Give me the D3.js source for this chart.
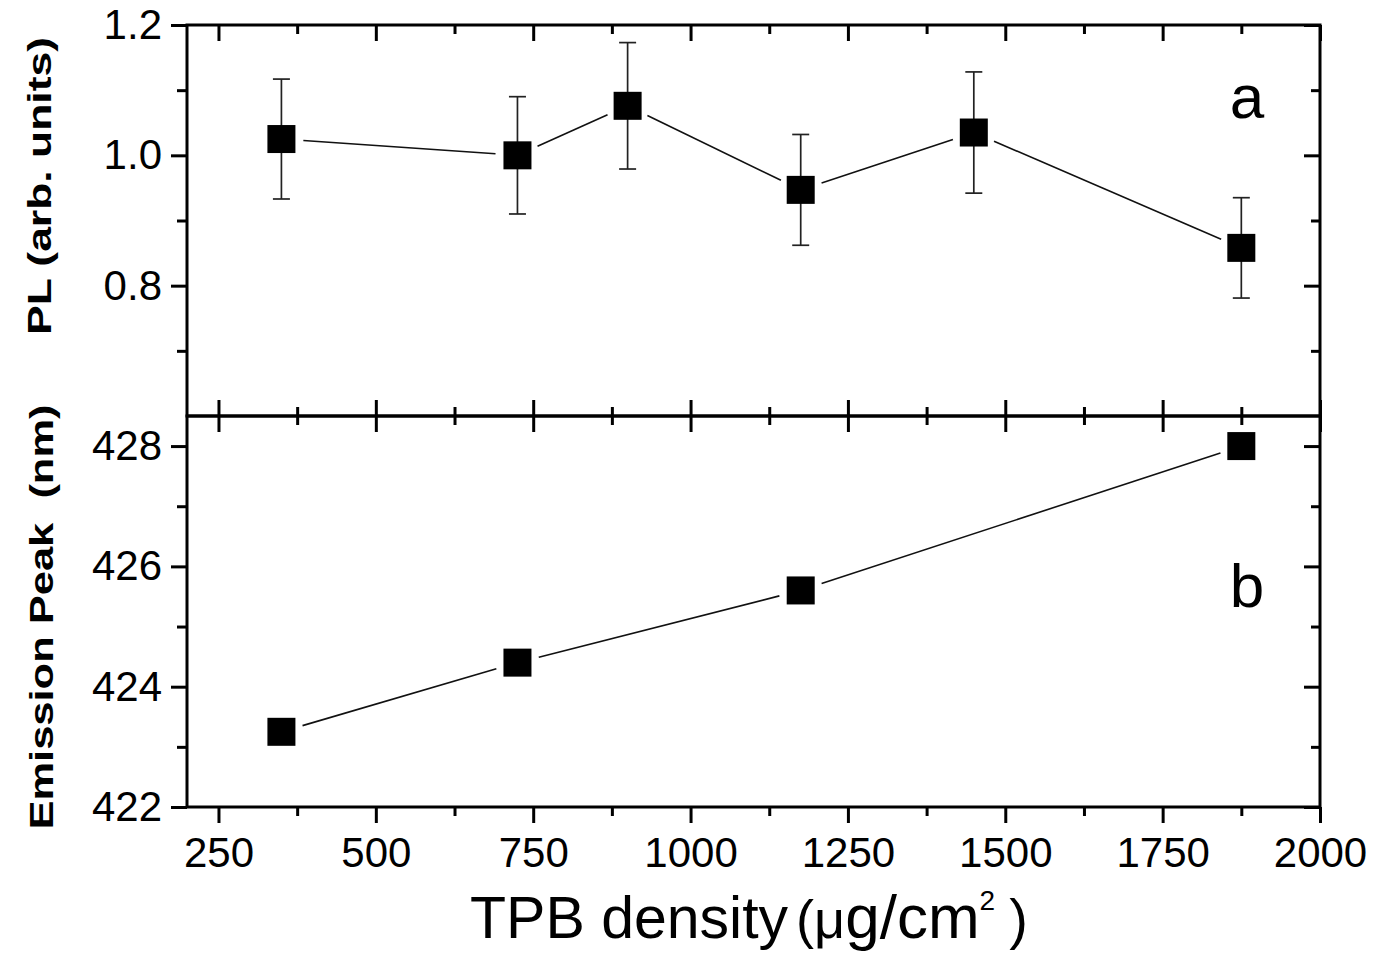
<!DOCTYPE html>
<html lang="en">
<head>
<meta charset="UTF-8">
<title>TPB density</title>
<script src="https://d3js.org/d3.v7.min.js"></script>
<style>
  body { margin: 0; background: #fff; }
  svg text { font-family: "Liberation Sans", Arial, sans-serif; fill: #000; }
</style>
</head>
<body>
<div id="chart"></div>
<script>
// x axis (shared)
var xDomain = [200, 2000];
var xMajor = [250, 500, 750, 1000, 1250, 1500, 1750, 2000];
var xMinor = [375, 625, 875, 1125, 1375, 1625, 1875];

// panel a: PL with error bars
var plDensity = [350, 725, 900, 1175, 1450, 1875];
var plValue = [1.025, 1.0, 1.076, 0.947, 1.035, 0.858];
var plError = [0.092, 0.09, 0.097, 0.085, 0.093, 0.077];
var plDomain = [0.6, 1.2];
var plMajor = [0.8, 1.0, 1.2];
var plMinor = [0.7, 0.9, 1.1];

// panel b: emission peak
var peakDensity = [350, 725, 1175, 1875];
var peakValue = [423.25, 424.4, 425.6, 428.0];
var peakDomain = [422, 428.5];
var peakMajor = [422, 424, 426, 428];
var peakMinor = [423, 425, 427];

var W = 1376, H = 957;
var pLeft = 187, pRight = 1320, pTop = 25, pMid = 416, pBottom = 807;
var major = 16, minor = 9;

var svg = d3.select("#chart").append("svg")
  .attr("width", W).attr("height", H);

var x = d3.scaleLinear().domain(xDomain).range([pLeft, pRight]);
var yA = d3.scaleLinear().domain(plDomain).range([pMid, pTop]);
var yB = d3.scaleLinear().domain(peakDomain).range([pBottom, pMid]);

// helper: an axis with ticks only, styled
function ticks(axis, tx, ty) {
  var g = svg.append("g")
    .attr("transform", "translate(" + tx + "," + ty + ")")
    .call(axis);
  g.select(".domain").remove();
  g.selectAll(".tick line").attr("stroke", "#000").attr("stroke-width", 3);
  g.selectAll("text").attr("font-size", 42).attr("fill", "#000")
    .attr("font-family", "'Liberation Sans', Arial, sans-serif");
  return g;
}
var none = function() { return ""; };

// top border of panel a: inward ticks
ticks(d3.axisTop(x).tickValues(xMajor).tickSize(-major).tickFormat(none), 0, pTop);
ticks(d3.axisTop(x).tickValues(xMinor).tickSize(-minor).tickFormat(none), 0, pTop);
// middle line: ticks crossing both ways
ticks(d3.axisTop(x).tickValues(xMajor).tickSize(major).tickFormat(none), 0, pMid);
ticks(d3.axisTop(x).tickValues(xMinor).tickSize(minor).tickFormat(none), 0, pMid);
ticks(d3.axisBottom(x).tickValues(xMajor).tickSize(major).tickFormat(none), 0, pMid);
ticks(d3.axisBottom(x).tickValues(xMinor).tickSize(minor).tickFormat(none), 0, pMid);
// bottom axis: outward ticks with labels
ticks(d3.axisBottom(x).tickValues(xMajor).tickSize(major).tickPadding(14).tickFormat(d3.format("d")), 0, pBottom);
ticks(d3.axisBottom(x).tickValues(xMinor).tickSize(minor).tickFormat(none), 0, pBottom);

// panel a y axes
ticks(d3.axisLeft(yA).tickValues(plMajor).tickSize(major).tickPadding(9).tickFormat(d3.format(".1f")), pLeft, 0);
ticks(d3.axisLeft(yA).tickValues(plMinor).tickSize(minor + 1).tickFormat(none), pLeft, 0);
ticks(d3.axisRight(yA).tickValues(plMajor).tickSize(-major).tickFormat(none), pRight, 0);
ticks(d3.axisRight(yA).tickValues(plMinor).tickSize(-minor).tickFormat(none), pRight, 0);

// panel b y axes
ticks(d3.axisLeft(yB).tickValues(peakMajor).tickSize(major).tickPadding(9).tickFormat(d3.format("d")), pLeft, 0);
ticks(d3.axisLeft(yB).tickValues(peakMinor).tickSize(minor + 1).tickFormat(none), pLeft, 0);
ticks(d3.axisRight(yB).tickValues(peakMajor).tickSize(-major).tickFormat(none), pRight, 0);
ticks(d3.axisRight(yB).tickValues(peakMinor).tickSize(-minor).tickFormat(none), pRight, 0);

// frames
svg.append("rect").attr("x", pLeft).attr("y", pTop)
  .attr("width", pRight - pLeft).attr("height", pMid - pTop)
  .attr("fill", "none").attr("stroke", "#000").attr("stroke-width", 3);
svg.append("rect").attr("x", pLeft).attr("y", pMid)
  .attr("width", pRight - pLeft).attr("height", pBottom - pMid)
  .attr("fill", "none").attr("stroke", "#000").attr("stroke-width", 3);

// connecting segments, trimmed so they stop short of the markers
function trimmed(xs, ys, yScale) {
  var out = [], gap = 22;
  for (var i = 0; i < xs.length - 1; i++) {
    var x1 = x(xs[i]), y1 = yScale(ys[i]), x2 = x(xs[i + 1]), y2 = yScale(ys[i + 1]);
    var dx = x2 - x1, dy = y2 - y1, len = Math.sqrt(dx * dx + dy * dy);
    out.push([x1 + dx / len * gap, y1 + dy / len * gap, x2 - dx / len * gap, y2 - dy / len * gap]);
  }
  return out;
}
function drawLines(segs) {
  svg.append("g").selectAll("line").data(segs).enter().append("line")
    .attr("x1", function(d) { return d[0]; })
    .attr("y1", function(d) { return d[1]; })
    .attr("x2", function(d) { return d[2]; })
    .attr("y2", function(d) { return d[3]; })
    .attr("stroke", "#111").attr("stroke-width", 1.6);
}
drawLines(trimmed(plDensity, plValue, yA));
drawLines(trimmed(peakDensity, peakValue, yB));

// error bars for panel a
var eb = svg.append("g").attr("stroke", "#222").attr("stroke-width", 1.7);
plDensity.forEach(function(d, i) {
  var cx = x(d), hi = yA(plValue[i] + plError[i]), lo = yA(plValue[i] - plError[i]);
  eb.append("line").attr("x1", cx).attr("x2", cx).attr("y1", hi).attr("y2", lo);
  eb.append("line").attr("x1", cx - 8.5).attr("x2", cx + 8.5).attr("y1", hi).attr("y2", hi);
  eb.append("line").attr("x1", cx - 8.5).attr("x2", cx + 8.5).attr("y1", lo).attr("y2", lo);
});

// square markers
var sq = 28;
svg.append("g").selectAll("rect").data(plDensity).enter().append("rect")
  .attr("x", function(d) { return x(d) - sq / 2; })
  .attr("y", function(d, i) { return yA(plValue[i]) - sq / 2; })
  .attr("width", sq).attr("height", sq).attr("fill", "#000");
svg.append("g").selectAll("rect").data(peakDensity).enter().append("rect")
  .attr("x", function(d) { return x(d) - sq / 2; })
  .attr("y", function(d, i) { return yB(peakValue[i]) - sq / 2; })
  .attr("width", sq).attr("height", sq).attr("fill", "#000");

// panel letters
svg.append("text").attr("x", 1247).attr("y", 118).attr("text-anchor", "middle")
  .attr("font-size", 62).text("a");
svg.append("text").attr("x", 1247).attr("y", 607).attr("text-anchor", "middle")
  .attr("font-size", 62).text("b");

// y titles (stretched along their length like the original)
svg.append("text")
  .attr("transform", "translate(51,186) rotate(-90)")
  .attr("text-anchor", "middle").attr("font-size", 34).attr("font-weight", "bold")
  .attr("textLength", 298).attr("lengthAdjust", "spacingAndGlyphs")
  .text("PL (arb. units)");
svg.append("text")
  .attr("transform", "translate(53,617) rotate(-90)")
  .attr("text-anchor", "middle").attr("font-size", 34).attr("font-weight", "bold")
  .attr("textLength", 425).attr("lengthAdjust", "spacingAndGlyphs")
  .style("white-space", "pre")
  .text("Emission Peak  (nm)");

// x title
var xt = svg.append("text").attr("x", 470).attr("y", 938).attr("font-size", 59)
  .style("white-space", "pre");
xt.append("tspan").text("TPB density");
xt.append("tspan").attr("font-size", 54).attr("dx", 8).text("(\u03bc");
xt.append("tspan").attr("font-size", 62).text("g/cm");
xt.append("tspan").attr("font-size", 28).attr("dy", -28).text("2");
xt.append("tspan").attr("font-size", 56).attr("dy", 28).attr("dx", 14).text(")");
</script>
</body>
</html>
